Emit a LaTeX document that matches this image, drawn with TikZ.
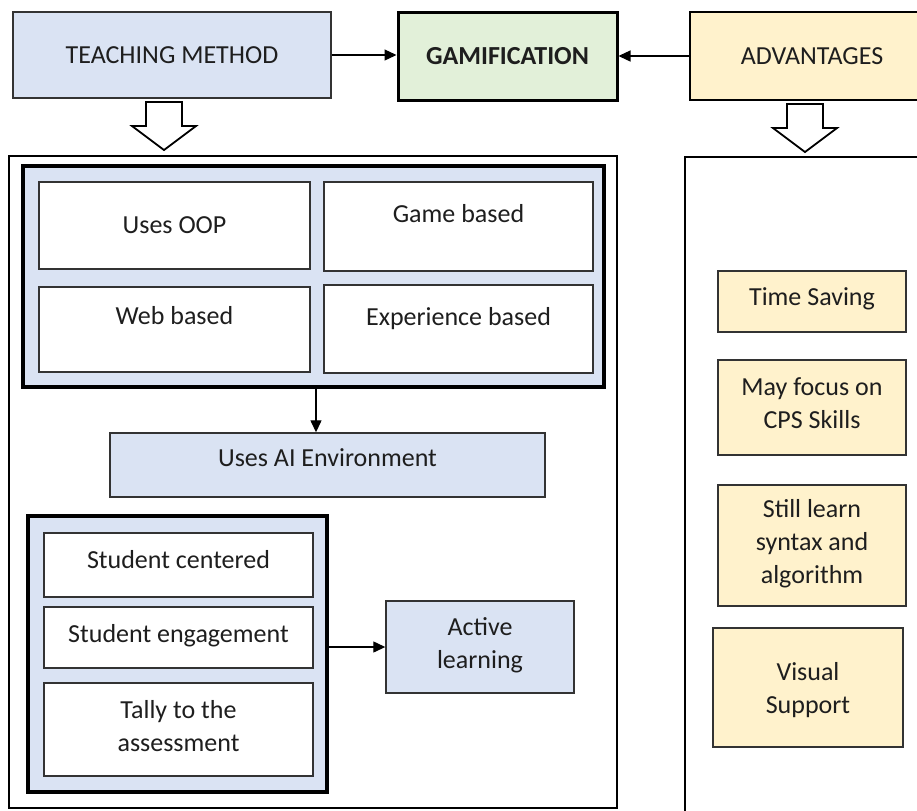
\documentclass[tikz,border=0pt]{standalone}
\usepackage{fontspec}
\setmainfont{Carlito}
\usetikzlibrary{arrows.meta,fit}

\definecolor{methodblue}{HTML}{DAE3F3}
\definecolor{gamegreen}{HTML}{E2F0D9}
\definecolor{advyellow}{HTML}{FFF2CC}
\definecolor{ink}{HTML}{1E1E1E}

\newcommand{\boxfont}{\fontsize{13}{16.5}\selectfont}

\tikzset{
	txt/.style={text=ink, font=\boxfont, align=center},
	% text of a box goes in a label at its centre
	inside/.style={label={[txt]center:#1}},
	box/.style={draw=black!80, line width=0.7pt, inner sep=0pt},
	bluebox/.style={box, fill=methodblue},
	whitebox/.style={box, fill=white, line width=0.8pt},
	yellowbox/.style={box, fill=advyellow},
	groupbox/.style={draw=black, line width=1.8pt, fill=methodblue, inner sep=0pt},
	panelbox/.style={draw=black, line width=1.2pt, inner sep=0pt},
	arr/.style={-{Triangle[length=6pt, width=5.5pt]}, line width=0.65pt},
	hollow/.style={draw=black, line width=0.9pt, fill=white, line join=miter},
}

\begin{document}
\begin{tikzpicture}[x=0.5pt, y=-0.5pt]
		\useasboundingbox (0, 0) rectangle (917, 810);

		% the two columns below the headings
		\node [panelbox, fit={(9, 156) (617, 808)}] (panL) {};
		\node [panelbox, fit={(685, 157) (940, 830)}] (panR) {};

		% headings
		\node [bluebox, fit={(13, 12) (331, 98)}, inside=TEACHING METHOD] (tm) {};
		\node [box, fill=gamegreen, draw=black, line width=1.5pt, fit={(398, 12) (617, 100)},
			label={[txt, font=\boxfont\bfseries]center:GAMIFICATION}] (gam) {};
		\node [yellowbox, draw=black, line width=1.3pt, fit={(690, 12) (934, 100)},
			inside=ADVANTAGES] (adv) {};

		\draw [arr] (tm.east) -- (tm.east -| gam.west);
		\draw [arr] (adv.west) -- (adv.west -| gam.east);

		% hollow arrows down into the columns
		\foreach \cx/\ty in {164/102, 805/104}
			\draw [hollow] ({\cx-18}, \ty) -- ({\cx+18}, \ty) -- ({\cx+18}, \ty+24)
				-- ({\cx+32}, \ty+24) -- (\cx, \ty+48) -- ({\cx-32}, \ty+24)
				-- ({\cx-18}, \ty+24) -- cycle;

		% teaching method: four kinds of approach
		\node [groupbox, fit={(23, 166) (604, 387)}] (methods) {};
		\node [whitebox, fit={(39, 182) (310, 269)}, inside=Uses OOP] (oop) {};
		\node [whitebox, fit={(324, 182) (593, 271)},
			label={[txt, yshift=6.5pt]center:Game based}] (game) {};
		\node [whitebox, fit={(39, 287) (310, 372)},
			label={[txt, yshift=7pt]center:Web based}] (web) {};
		\node [whitebox, fit={(324, 285) (593, 373)},
			label={[txt, yshift=5pt]center:Experience based}] (exper) {};

		\node [bluebox, fit={(110, 433) (545, 497)},
			label={[txt, yshift=3.5pt]center:Uses AI Environment}] (ai) {};
		\coordinate (drop) at (316, 0);
		\draw [arr] (drop |- methods.south) -- (drop |- ai.north);

		% what the learning looks like
		\node [groupbox, fit={(28, 516) (327, 792)}] (traits) {};
		\node [whitebox, fit={(44, 533) (313, 597)},
			label={[txt, yshift=2.5pt]center:Student centered}] (centred) {};
		\node [whitebox, fit={(44, 607) (313, 668)},
			label={[txt, yshift=1pt]center:Student engagement}] (engage) {};
		\node [whitebox, fit={(44, 683) (313, 776)},
			label={[txt, yshift=1.5pt]center:Tally to the\\assessment}] (tally) {};
		\node [bluebox, fit={(386, 601) (574, 693)},
			label={[txt, yshift=1pt]center:Active\\learning}] (active) {};
		\draw [arr] (traits.east |- active.west) -- (active.west);

		% advantages
		\node [yellowbox, fit={(718, 271) (906, 332)},
			label={[txt, yshift=1.5pt]center:Time Saving}] (saving) {};
		\node [yellowbox, fit={(718, 360) (906, 455)},
			label={[txt, yshift=2pt]center:May focus on\\CPS Skills}] (cps) {};
		\node [yellowbox, fit={(718, 485) (906, 606)},
			label={[txt, yshift=1pt]center:Still learn\\syntax and\\algorithm}] (syntax) {};
		\node [yellowbox, fit={(713, 628) (903, 747)},
			label={[txt, yshift=-1.25pt]center:Visual\\Support}] (visual) {};
	\end{tikzpicture}
\end{document}
